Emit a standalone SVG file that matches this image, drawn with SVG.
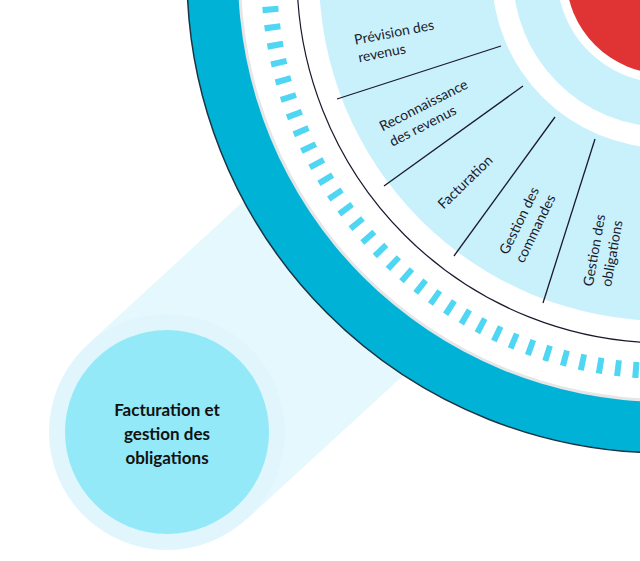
<svg xmlns="http://www.w3.org/2000/svg" width="640" height="561" viewBox="0 0 640 561">
<style>
.seg{font-family:Lato,"Noto Sans",sans-serif;font-size:14px;fill:#1a1a2e;text-anchor:middle}
.div{stroke:#1a1a2e;stroke-width:1.3}
</style>
<rect width="640" height="561" fill="#fff"/>
<g id="callout">
<polygon points="87,345 529,-61 689,113 247,519" fill="#e4f8fd"/>
<circle cx="167" cy="432" r="118" fill="#e0f6fc"/>
<circle cx="167" cy="432" r="102" fill="#93e9f8"/>
<text font-family="Lato,'Noto Sans',sans-serif" font-weight="bold" font-size="17" fill="#111" text-anchor="middle"><tspan x="167" y="416">Facturation et</tspan><tspan x="167" y="440">gestion des</tspan><tspan x="167" y="464">obligations</tspan></text>
</g>
<g id="wheel">
<circle cx="665" cy="-25" r="478" fill="#00b3d6" stroke="#1c3444" stroke-width="1.5"/>
<circle cx="665" cy="-25" r="427" fill="#e6e6e8"/>
<circle cx="665" cy="-25" r="424" fill="#fff"/>
<circle cx="665" cy="-25" r="396" fill="none" stroke="#4fd6f2" stroke-width="16" stroke-dasharray="6 12"/>
<circle cx="665" cy="-25" r="368" fill="#fff" stroke="#1a1a2e" stroke-width="1.2"/>
<circle cx="665" cy="-25" r="346" fill="#c9f1fb"/>
<circle cx="665" cy="-25" r="173" fill="#fff"/>
<circle cx="665" cy="-25" r="152" fill="#c9f1fb"/>
<circle cx="665" cy="-25" r="108" fill="#fff"/>
<circle cx="665" cy="-25" r="99" fill="#e03434"/>
</g>
<g id="connectors">
<line class="div" x1="337" y1="99" x2="501" y2="46"/>
<line class="div" x1="384" y1="186" x2="523" y2="86"/>
<line class="div" x1="454" y1="256" x2="555" y2="117"/>
<line class="div" x1="543" y1="303" x2="595" y2="139"/>
</g>
<g id="seg1"><text class="seg" transform="translate(396,42) rotate(-11)"><tspan x="0" y="-5">Prévision des</tspan><tspan x="-16" y="13">revenus</tspan></text></g>
<g id="seg2"><text class="seg" transform="translate(428,114) rotate(-27)"><tspan x="0" y="-5">Reconnaissance</tspan><tspan x="-10" y="13">des revenus</tspan></text></g>
<g id="seg3"><text class="seg" transform="translate(465,182) rotate(-44)"><tspan x="0" y="5">Facturation</tspan></text></g>
<g id="seg4"><text class="seg" transform="translate(528,225) rotate(-64)"><tspan x="0" y="-5">Gestion des</tspan><tspan x="0" y="13">commandes</tspan></text></g>
<g id="seg5"><text class="seg" transform="translate(604,252) rotate(-80)"><tspan x="0" y="-5">Gestion des</tspan><tspan x="0" y="13">obligations</tspan></text></g>
</svg>
